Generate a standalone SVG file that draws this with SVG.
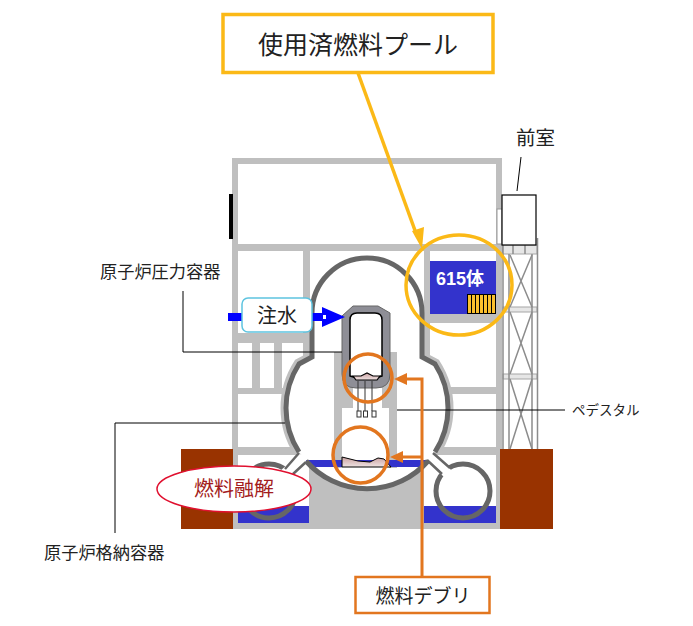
<svg xmlns="http://www.w3.org/2000/svg" width="693" height="626" viewBox="0 0 693 626">
<style>
text{font-family:"Noto Sans CJK JP","Noto Sans",sans-serif;fill:#222}
.w{fill:#bfbfbf}
.cv{fill:none;stroke:#666;stroke-width:5}
.lead{fill:none;stroke:#000;stroke-width:1}
.or{fill:none;stroke:#e2761f;stroke-width:3.500}
.ye{fill:none;stroke:#fbb917;stroke-width:3.500}
.blue{fill:#3333cc}
.tw{stroke:#8c8c8c;stroke-width:1.500;fill:none}
.twb{fill:#e6e6e6;stroke:#a6a6a6;stroke-width:1}
</style>
<defs>
<linearGradient id="deb" x1="0" y1="0" x2="0" y2="1"><stop offset="0" stop-color="#c9a0a0"/><stop offset="1" stop-color="#efe3e3"/></linearGradient>
<clipPath id="bulb"><circle cx="367" cy="408" r="81"/></clipPath>
</defs>
<rect width="693" height="626" fill="#fff"/>

<g id="building">
<rect class="w" x="232" y="158" width="270" height="6"/>
<rect class="w" x="232" y="158" width="6" height="371"/>
<rect class="w" x="496" y="158" width="6" height="371"/>
<rect class="w" x="232" y="244" width="270" height="7"/>
<rect class="w" x="303" y="251" width="7" height="112"/>
<rect class="w" x="238" y="333" width="72" height="10"/>
<rect class="w" x="252" y="343" width="8" height="45"/>
<rect class="w" x="274" y="343" width="8" height="45"/>
<rect class="w" x="232" y="388" width="60" height="6"/>
<rect class="w" x="440" y="387" width="60" height="7"/>
<rect class="w" x="232" y="447" width="270" height="8"/>
<rect class="w" x="232" y="467" width="270" height="62"/>
<rect x="238" y="455" width="71" height="51" fill="#fff"/>
<rect x="424" y="455" width="72" height="51" fill="#fff"/>
<rect class="blue" x="238" y="506" width="71" height="17"/>
<rect class="blue" x="424" y="506" width="72" height="17"/>
<rect x="229" y="194" width="4" height="45" fill="#000"/>
<rect class="w" x="424" y="251" width="6" height="112"/>
<rect class="w" x="424" y="314" width="72" height="9"/>
</g>

<g id="tower">
<rect x="497" y="209" width="5" height="35" fill="#fff" stroke="#999"/>
<rect class="twb" x="502.500" y="245" width="34.500" height="9"/>
<rect class="twb" x="503" y="307" width="34" height="5"/>
<rect class="twb" x="503" y="374" width="34" height="5"/>
<path class="tw" d="M513,245V254M525,245V254"/>
<path class="tw" d="M503,245V449M509,254V449M532,254V449M537.500,238V449"/>
<path class="tw" d="M510,255L532,307M532,255L510,307M510,312L532,374M532,312L510,374M510,379L532,449M532,379L510,449"/>
<rect x="502" y="195" width="34" height="50" fill="#fff" stroke="#000" stroke-width="1.200"/>
</g>

<g id="brown-left"><rect x="181" y="449" width="52" height="80" fill="#993300"/></g>
<g id="brown-right"><rect x="500" y="449" width="53" height="80" fill="#993300"/></g>

<g id="spent-fuel-pool">
<rect x="430" y="251" width="66" height="10" fill="#fff"/>
<rect class="blue" x="430" y="261" width="66" height="53"/>
<text x="436" y="285" font-size="18" font-weight="700" style="fill:#fff;font-family:'Liberation Sans','Noto Sans CJK JP',sans-serif">615体</text>
<rect x="467.500" y="294.500" width="28" height="19" fill="#fbc02d" stroke="#000"/>
<path d="M471.500,294.500v19M475.500,294.500v19M479.500,294.500v19M483.500,294.500v19M487.500,294.500v19M491.500,294.500v19" stroke="#000" stroke-width="1"/>
</g>

<g id="containment">
<path fill="none" stroke="#bfbfbf" stroke-width="11" d="M299,452A81,81 0 0 1 299,364L312,357M422,357L435,364A81,81 0 0 1 435,452"/>
<path fill="#fff" d="M299,452A81,81 0 0 1 299,364L312,357L312,313A55,55 0 0 1 422,313L422,357L435,364A81,81 0 0 1 435,452L428,461A81,81 0 0 1 306,461Z"/>
<rect class="w" x="334" y="352" width="19" height="56"/>
<rect class="w" x="382" y="352" width="15" height="56"/>
<rect class="w" x="334" y="408" width="8" height="60"/>
<rect class="w" x="389" y="408" width="8" height="60"/>
<rect class="blue" x="280" y="460" width="175" height="7" clip-path="url(#bulb)"/>
<path class="cv" d="M299,452A81,81 0 0 1 299,364L312,357L312,313A55,55 0 0 1 422,313L422,357L435,364A81,81 0 0 1 435,452"/>
<path class="cv" d="M428,461A81,81 0 0 1 306,461"/>
</g>

<g id="torus-left">
<circle cx="269" cy="491" r="27" fill="none" stroke="#666" stroke-width="5"/>
<path d="M303,457L281,477" stroke="#fff" stroke-width="10"/>
<path d="M299,453L285,469M306,462L293,474" stroke="#666" stroke-width="2.500" fill="none"/>
</g>
<g id="torus-right">
<circle cx="463" cy="491" r="27" fill="none" stroke="#666" stroke-width="5"/>
<path d="M431,457L451,477" stroke="#fff" stroke-width="10"/>
<path d="M433,453L450,468M427,460L442,474" stroke="#666" stroke-width="2.500" fill="none"/>
</g>

<g id="rpv">
<path d="M342,316L353,306H378L390,313V374Q390,388 376,388H356Q342,388 342,374Z" fill="#8e8e96" stroke="#666" stroke-width="1"/>
<path d="M350,320Q350,313 357,313H375Q382,313 382,320V376Q366,382 350,376Z" fill="#fff" stroke="#000" stroke-width="1.500"/>
<path d="M353,376L361,376L367,373L373,376L380,376L377,380H356Z" fill="url(#deb)" stroke="#000" stroke-width="1.200"/>
<path d="M358,381V411M365,381V411M372,381V411" stroke="#333" stroke-width="1" fill="none"/>
<g fill="#fff" stroke="#333" stroke-width="1"><rect x="357" y="411" width="4" height="6"/><rect x="363.500" y="411" width="4" height="6"/><rect x="372" y="411" width="4" height="6"/></g>
</g>

<g id="debris">
<path d="M342,457L358,461L370,462L378,458L384,459L391,467H342Z" fill="url(#deb)" stroke="#000" stroke-width="1"/>
</g>

<g id="connectors">
<path class="lead" d="M183,291V352H342"/>
<path class="lead" d="M115,533V423H285"/>
<path class="lead" d="M397,410H565"/>
<path class="lead" d="M521,157L517,191"/>
<rect x="228" y="313" width="14" height="8" fill="#0000ff"/>
<rect x="312" y="313" width="12" height="8" fill="#0000ff"/>
<path d="M322,307L345,317L322,327Z" fill="#0000ff"/>
<rect x="323" y="315" width="3" height="4" fill="#fff"/>
<path d="M358,73L417,236" stroke="#fbb917" stroke-width="3.500" fill="none"/>
<path d="M422,249L412,231L424,227Z" fill="#fbb917"/>
<path d="M422,577V379H406M422,457H402" fill="none" stroke="#e2761f" stroke-width="3"/>
<path d="M394,379L407,373V385Z" fill="#e2761f"/>
<path d="M390,457L403,451V463Z" fill="#e2761f"/>
</g>

<g id="circle-pool"><ellipse class="ye" cx="459" cy="285" rx="53" ry="50"/></g>
<g id="circle-rpv"><circle class="or" cx="368" cy="378" r="24"/></g>
<g id="circle-pedestal"><ellipse class="or" cx="360.500" cy="455" rx="27.500" ry="28"/></g>

<g id="label-water">
<rect x="242" y="298" width="70" height="34" rx="6" fill="#fff" stroke="#5ec4e0" stroke-width="1.500"/>
<text x="277" y="323" font-size="20" text-anchor="middle">注水</text>
</g>
<g id="label-melt">
<ellipse cx="234" cy="489" rx="77" ry="23" fill="#fff" stroke="#e0102f" stroke-width="1.500"/>
<text x="234" y="496" font-size="20" text-anchor="middle" style="fill:#a31c20">燃料融解</text>
</g>
<g id="label-sfp">
<rect x="223" y="14.500" width="270" height="58" fill="#fff" stroke="#fbb917" stroke-width="3.500"/>
<text x="358" y="54" font-size="25" text-anchor="middle">使用済燃料プール</text>
</g>
<g id="label-debris">
<rect x="355.500" y="577" width="134" height="36" fill="#fff" stroke="#e2761f" stroke-width="2.500"/>
<text x="423" y="603" font-size="19" text-anchor="middle">燃料デブリ</text>
</g>
<g id="label-rpv"><text x="100" y="278" font-size="17.200">原子炉圧力容器</text></g>
<g id="label-pcv"><text x="44" y="559" font-size="17.200">原子炉格納容器</text></g>
<g id="label-pedestal"><text x="572" y="415" font-size="13.500">ペデスタル</text></g>
<g id="label-anteroom"><text x="516" y="145" font-size="19.500">前室</text></g>
</svg>
